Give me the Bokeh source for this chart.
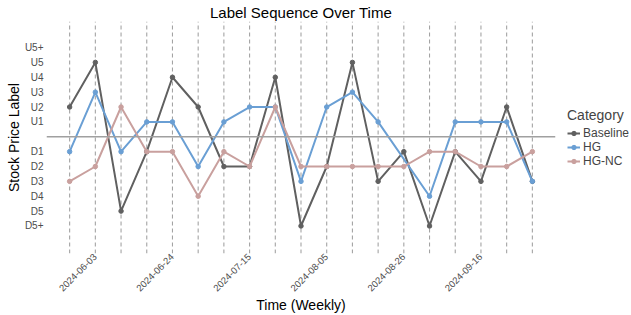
import datetime as dt
import math
from bokeh.plotting import figure
from bokeh.models import (Range1d, FixedTicker, Legend, LegendItem, Span,
                          DatetimeTickFormatter, ColumnDataSource)
from bokeh.embed import file_html
from bokeh.resources import INLINE

# ---- data ----
start = dt.datetime(2024, 5, 27)
weeks = [start + dt.timedelta(weeks=i) for i in range(19)]
tick_dates = ["2024-06-03", "2024-06-24", "2024-07-15", "2024-08-05", "2024-08-26", "2024-09-16"]
y_ticks = [-6, -5, -4, -3, -2, -1, 1, 2, 3, 4, 5, 6]
y_labels = ["D5+", "D5", "D4", "D3", "D2", "D1", "U1", "U2", "U3", "U4", "U5", "U5+"]

baseline = [2, 5, -5, -1, 4, 2, -2, -2, 4, -6, -2, 5, -3, -1, -6, -1, -3, 2, -3]
hg = [-1, 3, -1, 1, 1, -2, 1, 2, 2, -3, 2, 3, 1, None, -4, 1, 1, 1, -3]
hg_nc = [-3, -2, 2, -1, -1, -4, -1, -2, 2, -2, -2, -2, -2, -2, -1, -1, -2, -2, -1]

series = [("Baseline", baseline, "#606060"),
          ("HG", hg, "#6a9fd4"),
          ("HG-NC", hg_nc, "#c9a09e")]

FONT = "Liberation Sans"
EPOCH = dt.datetime(1970, 1, 1)


def ms(d):
    return (d - EPOCH).total_seconds() * 1000.0


pad = (weeks[-1] - weeks[0]) * 0.05
Y0, Y1 = -7.85, 7.75
p = figure(frame_width=509, frame_height=232, output_backend="svg", toolbar_location=None,
           x_axis_type="datetime",
           x_range=Range1d(weeks[0] - pad, weeks[-1] + pad),
           y_range=Range1d(Y0, Y1),
           title="Label Sequence Over Time",
           min_border_left=46, min_border_right=0, min_border_top=0, min_border_bottom=0)
p.outline_line_color = None
p.background_fill_color = "white"
p.border_fill_color = "white"
p.xgrid.visible = False
p.ygrid.visible = False

p.title.align = "center"
p.title.text_font = FONT
p.title.text_font_size = "15px"
p.title.text_font_style = "normal"
p.title.text_color = "black"
p.title.standoff = 2
p.title.offset = 0

# vertical dashed lines at each week (clipped to the panel)
p.segment(x0=weeks, x1=weeks, y0=[Y0] * len(weeks), y1=[Y1] * len(weeks),
          line_color="#a3a3a3", line_dash="4 3", line_width=1.1)
# horizontal zero line
p.add_layout(Span(location=0, dimension="width", line_color="#a0a0a0", line_width=1.6))

items = []
for name, vals, col in series:
    xs = [w for w, v in zip(weeks, vals) if v is not None]
    ys = [v for v in vals if v is not None]
    src = ColumnDataSource(dict(x=xs, y=ys))
    ln = p.line("x", "y", source=src, line_color=col, line_width=2)
    sc = p.scatter("x", "y", source=src, size=4.5, fill_color=col, line_color=col)
    items.append(LegendItem(label=name, renderers=[ln, sc]))

# axes
p.xaxis.ticker = FixedTicker(ticks=[ms(dt.datetime.fromisoformat(d)) for d in tick_dates])
p.xaxis.formatter = DatetimeTickFormatter(days="%Y-%m-%d", months="%Y-%m-%d")
p.xaxis.major_label_orientation = math.pi / 4
p.xaxis.axis_label = "Time (Weekly)"
p.yaxis.ticker = FixedTicker(ticks=y_ticks)
p.yaxis.major_label_overrides = {t: l for t, l in zip(y_ticks, y_labels)}
p.yaxis.axis_label = "Stock Price Label"
for ax in (p.xaxis, p.yaxis):
    ax.axis_line_color = None
    ax.major_tick_line_color = None
    ax.minor_tick_line_color = None
    ax.major_tick_out = 0
    ax.major_tick_in = 0
    ax.minor_tick_out = 0
    ax.minor_tick_in = 0
    ax.major_label_text_font = FONT
    ax.major_label_text_color = "#4d4d4d"
    ax.axis_label_text_font = FONT
    ax.axis_label_text_font_size = "14px"
    ax.axis_label_text_font_style = "normal"
    ax.axis_label_text_color = "black"
p.xaxis.major_label_text_font_size = "9.5px"
p.yaxis.major_label_text_font_size = "10px"
p.xaxis.major_label_standoff = 2
p.yaxis.major_label_standoff = 3
p.xaxis.axis_label_standoff = 0
p.yaxis.axis_label_standoff = 0

legend = Legend(items=items, title="Category", location="center_left",
                title_text_font=FONT, title_text_font_size="14px", title_text_font_style="normal",
                label_text_font=FONT, label_text_font_size="12px",
                glyph_width=13, glyph_height=11, label_height=11, spacing=-3,
                padding=0, margin=12, label_standoff=3, title_standoff=3,
                background_fill_alpha=0, border_line_color=None)
p.add_layout(legend, "right")

open("out.html", "w").write(file_html(p, INLINE))
